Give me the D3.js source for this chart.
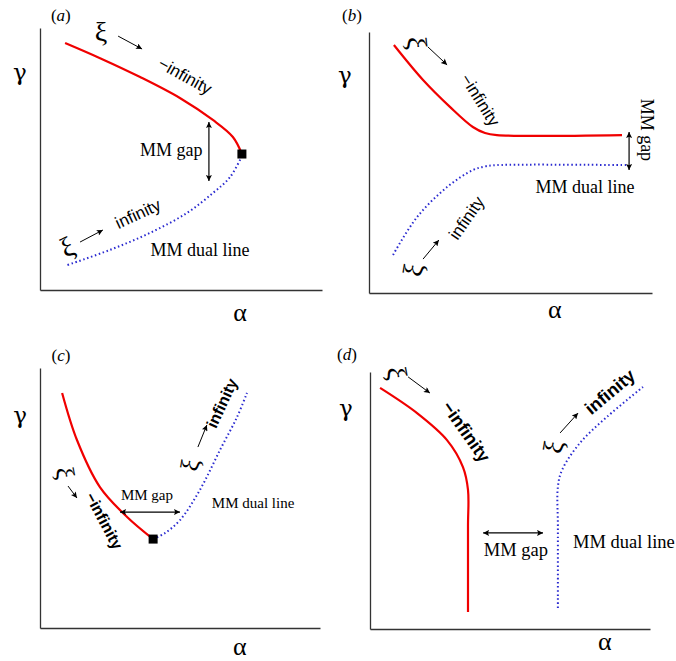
<!DOCTYPE html>
<html><head><meta charset="utf-8">
<script src="https://cdn.jsdelivr.net/npm/d3@7"></script>
<style>body{margin:0;background:#fff}svg{display:block}</style>
</head><body>
<svg id="c" width="676" height="661"></svg>
<script>
// ---- data (α, γ) in schematic units 0..100 ----
const aSolid = [[8.9,94.3],[21.3,88.5],[35.5,81.3],[49.6,73.3],[61.3,64.9],[68.4,58.4],[71.6,51.9]];
const aDual  = [[71.6,51.1],[67.4,43.1],[61.3,37.0],[52.1,29.4],[39.0,21.8],[24.8,15.3],[9.6,9.5]];
const bSolid = [[8.8,95.0],[19.1,81.6],[28.6,71.3],[36.7,63.6],[41.0,61.3],[45.2,60.5],[89.4,60.5]];
const bDual  = [[8.5,14.6],[17.0,29.1],[27.6,40.6],[36.7,47.1],[41.0,48.5],[45.2,49.0],[91.2,49.0]];
const cSolid = [[7.9,90.4],[13.2,72.3],[21.4,54.2],[31.1,42.7],[40.4,34.2]];
const cDual  = [[40.4,34.2],[44.6,36.5],[50.0,41.5],[57.1,53.1],[64.3,68.5],[70.4,81.2],[73.9,90.4]];
const dSolid = [[3.6,93.8],[16.8,84.0],[27.5,73.5],[33.2,63.0],[35.0,54.1],[35.0,40.0],[35.0,6.6]];
const dDual  = [[67.1,8.2],[67.1,40.0],[67.1,55.3],[68.6,61.9],[75.0,72.4],[84.6,82.5],[97.5,94.2]];
const panelLetters = ["a","b","c","d"];

const panels = [
  {letter:panelLetters[0], x0:40, x1:322, yb:290, yt:28, solid:aSolid, dual:aDual,
   square:[71.6,51.9],
   tags:[[7.4,105],[-7.1,83.2],[70.9,-8.4]],
   texts:[
    {t:"ξ", p:[21.6,98.5], r:0, f:"serif", s:28},
    {t:"\u2212infinity", p:[51.4,81.6], r:29, f:"sans", s:17},
    {t:"MM gap", p:[46.5,53.4], r:0, f:"serif", s:18},
    {t:"ξ", p:[9.6,16.4], r:-25, f:"serif", s:28},
    {t:"infinity", p:[34.8,29.0], r:-25, f:"sans", s:17},
    {t:"MM dual line", p:[56.7,15.3], r:0, f:"serif", s:18}],
   arrowsFix:[[[27.7,96.9],[36.2,91.98]],[[14.2,18.3],[22.3,22.9]]],
   dbl:[[[59.9,64.1],[59.9,41.6]]]},
  {letter:panelLetters[1], x0:369, x1:652, yb:293, yt:32, solid:bSolid, dual:bDual,
   square:null,
   tags:[[-6.0,106.5],[-8.5,83.5],[65.7,-6.5]],
   texts:[
    {t:"ξ", p:[17.0,95.8], r:85, f:"serif", s:28},
    {t:"\u2212infinity", p:[39.2,73.9], r:58, f:"sans", s:17},
    {t:"MM gap", p:[98.2,62.5], r:90, f:"serif", s:18},
    {t:"MM dual line", p:[76.3,40.6], r:0, f:"serif", s:18},
    {t:"ξ", p:[15.5,8.8], r:-80, f:"serif", s:28},
    {t:"infinity", p:[34.6,28.7], r:-55, f:"sans", s:17}],
   arrowsFix:[[[20.8,94.3],[27.6,87.4]],[[19.1,13.0],[24.7,20.3]]],
   dbl:[[[91.9,61.7],[91.9,47.1]]]},
  {letter:panelLetters[2], x0:40, x1:320, yb:628, yt:368, solid:cSolid, dual:cDual,
   square:[40.4,34.2],
   tags:[[7.5,105],[-7.1,81.9],[71.4,-7.0]],
   texts:[
    {t:"ξ", p:[8.9,59.6], r:80, f:"serif", s:26},
    {t:"\u2212infinity", p:[22.9,41.2], r:62, f:"sansb", s:16},
    {t:"MM gap", p:[38.2,51.2], r:0, f:"serif", s:15},
    {t:"MM dual line", p:[76.1,48.1], r:0, f:"serif", s:15},
    {t:"ξ", p:[53.6,62.7], r:-80, f:"serif", s:26},
    {t:"infinity", p:[65.0,86.5], r:-65, f:"sansb", s:16}],
   arrowsFix:[[[10.0,54.6],[13.2,50.0]],[[56.4,69.6],[59.6,78.1]]],
   dbl:[[[28.6,44.6],[50.0,44.6]]]},
  {letter:panelLetters[3], x0:370, x1:650, yb:629, yt:372, solid:dSolid, dual:dDual,
   square:null,
   tags:[[-8.2,107],[-8.6,86],[83.9,-5.0]],
   texts:[
    {t:"ξ", p:[9.6,99.6], r:80, f:"serif", s:28},
    {t:"\u2212infinity", p:[34.3,76.7], r:55, f:"sansb", s:18},
    {t:"MM gap", p:[52.1,30.7], r:0, f:"serif", s:18.5},
    {t:"MM dual line", p:[72.5,33.9], r:0, f:"serif", s:18.5, a:"start"},
    {t:"ξ", p:[65.4,70.8], r:-80, f:"serif", s:28},
    {t:"infinity", p:[85.7,92.2], r:-40, f:"sansb", s:18}],
   arrowsFix:[[[13.6,98.1],[21.4,91.8]],[[67.9,76.3],[74.3,84.0]]],
   dbl:[[[40.4,37.4],[61.8,37.4]]]}
];

const svg = d3.select("#c");
const defs = svg.append("defs");
defs.append("marker").attr("id","ah").attr("viewBox","0 0 10 10")
  .attr("refX",10).attr("refY",5).attr("markerWidth",8).attr("markerHeight",6)
  .attr("markerUnits","userSpaceOnUse").attr("orient","auto-start-reverse")
  .append("path").attr("d","M0,0 L10,5 L0,10 L2,5 Z").attr("fill","#000");

const fonts = {serif:"'Liberation Serif','Times New Roman',serif",
  sans:"'Liberation Sans',Arial,sans-serif", sansb:"'Liberation Sans',Arial,sans-serif",
  greek:"'DejaVu Serif',serif"};

panels.forEach(P=>{
  const x = d3.scaleLinear().domain([0,100]).range([P.x0,P.x1]);
  const y = d3.scaleLinear().domain([0,100]).range([P.yb,P.yt]);
  const g = svg.append("g");
  g.append("g").attr("transform",`translate(${P.x0},0)`)
    .call(d3.axisLeft(y).tickValues([]).tickSizeOuter(0))
    .select(".domain").attr("stroke","#333").attr("stroke-width",1.3);
  g.append("g").attr("transform",`translate(0,${P.yb})`)
    .call(d3.axisBottom(x).tickValues([]).tickSizeOuter(0))
    .select(".domain").attr("stroke","#333").attr("stroke-width",1.3);

  const line = d3.line().x(d=>x(d[0])).y(d=>y(d[1])).curve(d3.curveCatmullRom.alpha(0.5));
  g.append("path").attr("d",line(P.solid)).attr("fill","none")
    .attr("stroke","#f00000").attr("stroke-width",2.2);
  g.append("path").attr("d",line(P.dual)).attr("fill","none")
    .attr("stroke","#2a2ad0").attr("stroke-width",2).attr("stroke-dasharray","1.5 2.6");
  if(P.square){
    g.append("rect").attr("x",x(P.square[0])-4.5).attr("y",y(P.square[1])-4.5)
      .attr("width",9).attr("height",9).attr("fill","#000");
  }
  const tag = g.append("text").attr("x",x(P.tags[0][0])).attr("y",y(P.tags[0][1]))
    .attr("text-anchor","middle").attr("dominant-baseline","central")
    .attr("font-family",fonts.serif).attr("font-size",17);
  tag.append("tspan").text("(");
  tag.append("tspan").attr("font-style","italic").text(P.letter);
  tag.append("tspan").text(")");
  g.append("text").attr("x",x(P.tags[1][0])).attr("y",y(P.tags[1][1]))
    .attr("text-anchor","middle").attr("dominant-baseline","central")
    .attr("font-family",fonts.greek).attr("font-size",23).text("γ");
  g.append("text").attr("x",x(P.tags[2][0])).attr("y",y(P.tags[2][1]))
    .attr("text-anchor","middle").attr("dominant-baseline","central")
    .attr("font-family",fonts.serif).attr("font-size",26).text("α");
  P.texts.forEach(T=>{
    const px=x(T.p[0]), py=y(T.p[1]);
    g.append("text").attr("transform",`translate(${px},${py}) rotate(${T.r})`)
      .attr("text-anchor",T.a||"middle").attr("dominant-baseline","central")
      .attr("font-family",fonts[T.f]).attr("font-weight",T.f==="sansb"?"bold":"normal")
      .attr("font-size",T.s).text(T.t);
  });
  P.arrowsFix.forEach(A=>{
    g.append("line").attr("x1",x(A[0][0])).attr("y1",y(A[0][1]))
      .attr("x2",x(A[1][0])).attr("y2",y(A[1][1]))
      .attr("stroke","#000").attr("stroke-width",1).attr("marker-end","url(#ah)");
  });
  P.dbl.forEach(A=>{
    g.append("line").attr("x1",x(A[0][0])).attr("y1",y(A[0][1]))
      .attr("x2",x(A[1][0])).attr("y2",y(A[1][1]))
      .attr("stroke","#000").attr("stroke-width",1.2)
      .attr("marker-start","url(#ah)").attr("marker-end","url(#ah)");
  });
});
</script>
</body></html>
